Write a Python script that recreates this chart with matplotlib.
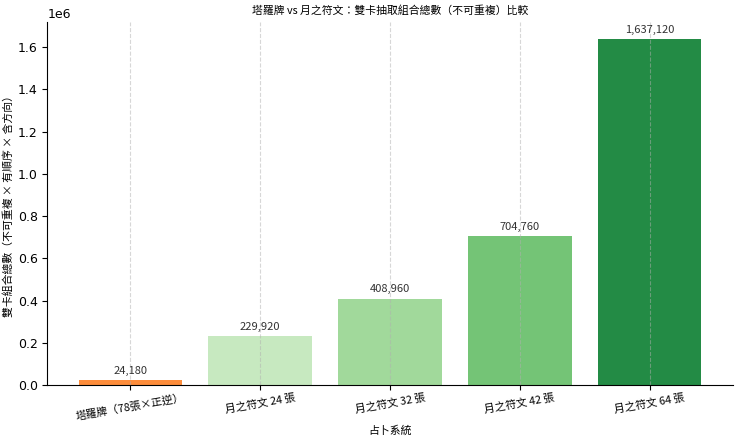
import matplotlib
matplotlib.use("Agg")
import matplotlib.pyplot as plt

cjk = ['Noto Sans CJK TC', 'DejaVu Sans']

systems = ['塔羅牌（78張×正逆）', '月之符文 24 張', '月之符文 32 張', '月之符文 42 張', '月之符文 64 張']
combos = [24180, 229920, 408960, 704760, 1637120]
colors = ['#fd8d3c', '#c7e9c0', '#a1d99b', '#74c476', '#238b45']

fig, ax = plt.subplots(figsize=(7.4, 4.41), dpi=100)
fig.subplots_adjust(left=0.064, right=0.99, bottom=0.127, top=0.95)

bars = ax.bar(systems, combos, color=colors)
for b, v in zip(bars, combos):
    ax.text(b.get_x() + b.get_width() / 2, v + combos[-1] * 0.012, f'{v:,}',
            ha='center', va='bottom', fontsize=8, family=cjk, color='#333333')

ax.set_ylim(0, max(combos) * 1.05)
ax.set_title('塔羅牌 vs 月之符文：雙卡抽取組合總數（不可重複）比較', family=cjk, fontsize=7.8)
ax.set_xlabel('占卜系統', family=cjk, fontsize=7.8, labelpad=2)
ax.set_ylabel('雙卡組合總數（不可重複 × 有順序 × 含方向）', family=cjk, fontsize=7.8, labelpad=3)
ax.tick_params(axis='x', pad=2)
ax.tick_params(axis='y', labelsize=9)
ax.yaxis.get_offset_text().set_fontsize(9)
for lab in ax.get_xticklabels():
    lab.set_family(cjk)
    lab.set_fontsize(7.8)
    lab.set_rotation(10)
ax.grid(axis='x', linestyle='--', alpha=0.5)
ax.spines['top'].set_visible(False)
ax.spines['right'].set_visible(False)

fig.savefig('out.png')
